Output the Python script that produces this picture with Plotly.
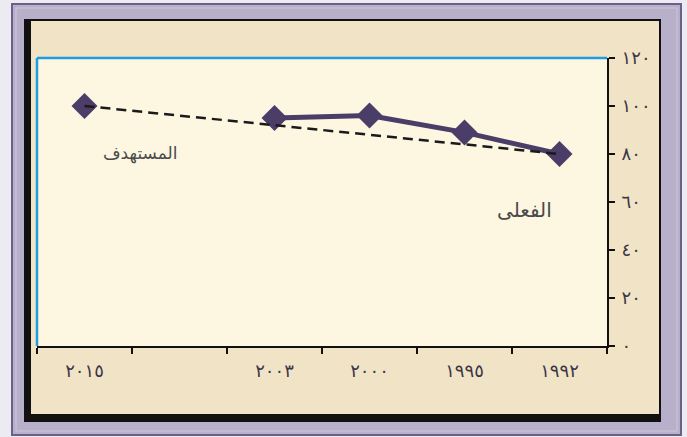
import plotly.graph_objects as go

# Category axis, left to right (the second slot is intentionally empty)
years = ["٢٠١٥", " ", "٢٠٠٣", "٢٠٠٠", "١٩٩٥", "١٩٩٢"]

# Actual values
actual_years = ["٢٠٠٣", "٢٠٠٠", "١٩٩٥", "١٩٩٢"]
actual_values = [95, 96, 89, 80]

# Target line (2015 goal back to the 1992 baseline)
target_years = ["٢٠١٥", "١٩٩٢"]
target_values = [100, 80]

# Y axis ticks
y_ticks = [0, 20, 40, 60, 80, 100, 120]
y_tick_text = ["٠", "٢٠", "٤٠", "٦٠", "٨٠", "١٠٠", "١٢٠"]

label_target = "المستهدف"
label_actual = "الفعلى"

W, H = 687, 437
L, R, T, B = 37, 607, 58, 346  # plot area in pixels
PW, PH = R - L, B - T


def px(x):
    return (x - L) / PW


def py(y):
    return (B - y) / PH


def rect(x0, y0, x1, y1, fill, line_color=None, line_width=0):
    return dict(type="rect", xref="paper", yref="paper",
                x0=px(x0), x1=px(x1), y0=py(y1), y1=py(y0),
                fillcolor=fill, layer="below",
                line=dict(color=line_color or fill, width=line_width))


purple = "#4a3d68"

fig = go.Figure()

# keeps every category slot on the axis
fig.add_trace(go.Scatter(x=years, y=[None] * len(years), mode="markers",
                         showlegend=False, hoverinfo="skip"))

fig.add_trace(go.Scatter(
    x=actual_years, y=actual_values, mode="lines+markers",
    line=dict(color=purple, width=5),
    marker=dict(symbol="diamond", size=20, color=purple, opacity=1),
    showlegend=False,
))

# target point for 2015
fig.add_trace(go.Scatter(
    x=target_years[:1], y=target_values[:1], mode="markers",
    marker=dict(symbol="diamond", size=20, color=purple, opacity=1),
    showlegend=False,
))

fig.add_trace(go.Scatter(
    x=target_years, y=target_values, mode="lines",
    line=dict(color="#1a1a1a", width=2.5, dash="10px,6px"),
    showlegend=False,
))

shapes = [
    # outer lavender frame
    rect(12, 4, 681, 435, "#b8b0cb", "#6c6088", 2),
    rect(16, 8, 677, 431, "rgba(0,0,0,0)", "#cbc5da", 1),
    # panel with dark shadow on left and bottom
    rect(24, 19, 661, 422, "#111111"),
    rect(31, 21, 659, 414, "#f1e4c6"),
    # plot area
    rect(L, T, R, B, "#fdf7e2"),
]
# light blue top and left edges of the plot area
shapes.append(dict(type="line", xref="paper", yref="paper", x0=px(L), x1=px(R),
                   y0=1, y1=1, line=dict(color="#1f9de0", width=2.5), layer="below"))
shapes.append(dict(type="line", xref="paper", yref="paper", x0=px(L), x1=px(L),
                   y0=0, y1=1, line=dict(color="#1f9de0", width=2.5), layer="below"))

annotations = [
    dict(text=label_target, xref="paper", yref="paper", x=px(140), y=py(153),
         xanchor="center", yanchor="middle", showarrow=False,
         font=dict(family="DejaVu Sans", size=17, color="#4a4a4a")),
    dict(text=label_actual, xref="paper", yref="paper", x=px(524), y=py(210),
         xanchor="center", yanchor="middle", showarrow=False,
         font=dict(family="DejaVu Sans", size=20, color="#4a4a4a")),
]

tick_font = dict(family="DejaVu Sans", size=18, color="#3a3648")

fig.update_layout(
    width=W, height=H,
    margin=dict(l=L, r=W - R, t=T, b=H - B),
    paper_bgcolor="#ecebf1",
    plot_bgcolor="rgba(0,0,0,0)",
    shapes=shapes,
    annotations=annotations,
    xaxis=dict(
        type="category", categoryorder="array", categoryarray=years,
        range=[-0.5, len(years) - 0.5],
        tickson="boundaries", ticks="outside", ticklen=6, tickwidth=2,
        tickcolor="#111111", showline=True, linecolor="#111111", linewidth=2,
        showgrid=False, zeroline=False, tickfont=tick_font,
        ticklabelstandoff=7, fixedrange=True,
    ),
    yaxis=dict(
        side="right", range=[0, 120], tickvals=y_ticks, ticktext=y_tick_text,
        ticks="outside", ticklen=6, tickwidth=2, tickcolor="#111111",
        showline=True, linecolor="#111111", linewidth=2,
        showgrid=False, zeroline=False, tickfont=tick_font,
        ticklabelstandoff=3, fixedrange=True,
    ),
)

fig.write_html("out.html")
